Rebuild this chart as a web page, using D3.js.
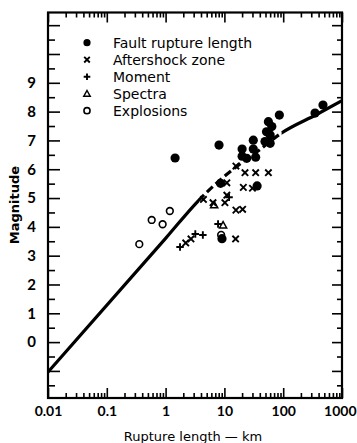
<!DOCTYPE html>
<html><head><meta charset="utf-8">
<script src="https://cdn.jsdelivr.net/npm/d3@7"></script>
<style>body{margin:0;background:#fff}svg{display:block}</style>
</head><body><svg id="c" width="357" height="443"></svg>
<script>
// ---- data (rupture length km, magnitude) ----
const faultL = [1.45, 8.1, 8.6, 20, 20, 24, 31, 31, 34, 49, 52, 56, 64, 60, 60, 86, 348, 475, 36, 9.1];
const faultM = [6.39, 6.84, 5.51, 6.70, 6.45, 6.38, 7.01, 6.70, 6.42, 6.96, 7.30, 7.65, 7.48, 7.19, 6.90, 7.88, 7.95, 8.23, 5.42, 3.59];
const afterL = [15.7, 22.4, 34, 56, 11, 21, 30, 4.4, 6.4, 10.2, 11, 15.7, 20.4, 15.5, 2.2, 2.7];
const afterM = [6.11, 5.88, 5.88, 5.88, 5.53, 5.37, 5.34, 4.95, 4.84, 4.84, 5.10, 4.58, 4.61, 3.58, 3.44, 3.58];
const momentL = [1.76, 3.2, 4.3, 7.8, 12];
const momentM = [3.30, 3.75, 3.72, 4.10, 5.03];
const spectraL = [9.5, 6.7];
const spectraM = [4.06, 4.76];
const explL = [0.357, 0.58, 0.89, 1.18, 8.8];
const explM = [3.40, 4.24, 4.09, 4.55, 3.72];
const curveL = [0.01, 1, 3.7, 8.4, 16, 35, 94, 370, 1000];
const curveM = [-1.04, 3.6, 4.93, 5.62, 6.09, 6.59, 7.26, 7.90, 8.38];
const dashFrom = 3.7, dashTo = 94;
const xTicks = [0.01, 0.1, 1, 10, 100, 1000];
const xTickLabels = ["0.01", "0.1", "1", "10", "100", "1000"];
const yTicks = [0, 1, 2, 3, 4, 5, 6, 7, 8, 9];
const legendLabels = ["Fault rupture length", "Aftershock zone", "Moment", "Spectra", "Explosions"];
const xTitle = "Rupture length — km";
const yTitle = "Magnitude";

// ---- drawing ----
const svg = d3.select('#c');
const x = d3.scaleLog().domain([0.01, 1000]).range([48, 342]);
const y = d3.scaleLinear().domain([-1.94, 11.44]).range([398, 12.5]);
const FONT = "Lato, 'DejaVu Sans', sans-serif";
const FONT2 = "'DejaVu Sans', sans-serif";

const minorX = [];
for (let e = -2; e < 3; e++) for (let k = 2; k <= 9; k++) minorX.push(k * Math.pow(10, e));
const majorY = d3.range(-1, 12);
const minorY = d3.range(-1.5, 11.5, 1);

function styleAxis(g) {
  g.select('.domain').remove();
  g.selectAll('line').attr('stroke', '#000').attr('stroke-width', 1.6);
}
// bottom
svg.append('g').attr('transform', `translate(0,${y.range()[0]})`)
  .call(d3.axisBottom(x).tickValues(minorX).tickSize(-5).tickFormat(''))
  .call(styleAxis);
svg.append('g').attr('transform', `translate(0,${y.range()[0]})`)
  .call(d3.axisBottom(x).tickValues(xTicks).tickSize(-10).tickPadding(8)
    .tickFormat((d, i) => xTickLabels[i]))
  .call(styleAxis)
  .call(g => g.selectAll('text').attr('font-family', FONT).attr('font-size', 14)
    .attr('font-weight', 'bold').attr('fill', '#000')
    .filter(d => d === 1000).attr('text-anchor', 'end').attr('dx', 14));
// top
svg.append('g').attr('transform', `translate(0,${y.range()[1]})`)
  .call(d3.axisTop(x).tickValues(minorX).tickSize(-5).tickFormat('')).call(styleAxis);
svg.append('g').attr('transform', `translate(0,${y.range()[1]})`)
  .call(d3.axisTop(x).tickValues(xTicks).tickSize(-10).tickFormat('')).call(styleAxis);
// left
svg.append('g').attr('transform', `translate(${x.range()[0]},0)`)
  .call(d3.axisLeft(y).tickValues(minorY).tickSize(-7).tickFormat('')).call(styleAxis);
svg.append('g').attr('transform', `translate(${x.range()[0]},0)`)
  .call(d3.axisLeft(y).tickValues(majorY).tickSize(-12).tickPadding(12)
    .tickFormat(d => yTicks.includes(d) ? String(d) : ''))
  .call(styleAxis)
  .call(g => g.selectAll('text').attr('font-family', FONT).attr('font-size', 15)
    .attr('font-weight', 'bold').attr('fill', '#000'));
// right
svg.append('g').attr('transform', `translate(${x.range()[1]},0)`)
  .call(d3.axisRight(y).tickValues(minorY).tickSize(-5).tickFormat('')).call(styleAxis);
svg.append('g').attr('transform', `translate(${x.range()[1]},0)`)
  .call(d3.axisRight(y).tickValues(majorY).tickSize(-10).tickFormat('')).call(styleAxis);

// frame
svg.append('rect').attr('x', x.range()[0]).attr('y', y.range()[1])
  .attr('width', x.range()[1] - x.range()[0]).attr('height', y.range()[0] - y.range()[1])
  .attr('fill', 'none').attr('stroke', '#000').attr('stroke-width', 2.2);

// curve
const defs = svg.append('defs');
const clips = [[x.range()[0] - 5, x(dashFrom)], [x(dashFrom), x(dashTo)], [x(dashTo), x.range()[1] + 5]];
clips.forEach((c, i) => defs.append('clipPath').attr('id', 'cp' + i).append('rect')
  .attr('x', c[0]).attr('y', 0).attr('width', c[1] - c[0]).attr('height', 443));
const curvePts = curveL.map((d, i) => [d, curveM[i]]);
const line = d3.line().x(d => x(d[0])).y(d => y(d[1])).curve(d3.curveMonotoneX);
clips.forEach((c, i) => svg.append('path').datum(curvePts).attr('d', line)
  .attr('clip-path', `url(#cp${i})`).attr('fill', 'none').attr('stroke', '#000')
  .attr('stroke-width', 3.2).attr('stroke-dasharray', i === 1 ? '8,4' : null));

// marker helpers
function mark(g, type, cx, cy, s) {
  if (type === 'fault') g.append('circle').attr('cx', cx).attr('cy', cy).attr('r', s).attr('fill', '#000');
  else if (type === 'expl') g.append('circle').attr('cx', cx).attr('cy', cy).attr('r', s * 0.8)
    .attr('fill', 'none').attr('stroke', '#000').attr('stroke-width', 1.6);
  else if (type === 'after') g.append('path')
    .attr('d', `M${cx - s},${cy - s}L${cx + s},${cy + s}M${cx - s},${cy + s}L${cx + s},${cy - s}`)
    .attr('stroke', '#000').attr('stroke-width', 1.9);
  else if (type === 'moment') g.append('path')
    .attr('d', `M${cx - s * 1.1},${cy}L${cx + s * 1.1},${cy}M${cx},${cy - s * 1.1}L${cx},${cy + s * 1.1}`)
    .attr('stroke', '#000').attr('stroke-width', 1.9);
  else if (type === 'spectra') g.append('path')
    .attr('d', `M${cx},${cy - s}L${cx + s},${cy + s * 0.8}L${cx - s},${cy + s * 0.8}Z`)
    .attr('fill', 'none').attr('stroke', '#000').attr('stroke-width', 1.5);
}
const gm = svg.append('g');
const sets = [
  ['expl', explL, explM, 4.2],
  ['spectra', spectraL, spectraM, 3.6],
  ['moment', momentL, momentM, 3.4],
  ['after', afterL, afterM, 3.2],
  ['fault', faultL, faultM, 4.6]
];
sets.forEach(([t, L, M, s]) => L.forEach((d, i) => mark(gm, t, x(d), y(M[i]), s)));

// legend
const lg = svg.append('g');
const legTypes = ['fault', 'after', 'moment', 'spectra', 'expl'];
const legSize = [3.6, 2.8, 3.0, 3.2, 3.8];
legendLabels.forEach((t, i) => {
  const cy = 42.7 + i * 17;
  mark(lg, legTypes[i], 87, cy, legSize[i]);
  lg.append('text').attr('x', 113).attr('y', cy + 5).text(t)
    .attr('font-family', FONT2).attr('font-size', 14).attr('fill', '#000');
});

// titles
svg.append('text').attr('x', 193).attr('y', 441).attr('text-anchor', 'middle').text(xTitle)
  .attr('font-family', FONT2).attr('font-size', 13).attr('fill', '#000');
svg.append('text').attr('transform', 'translate(19,205) rotate(-90)').attr('text-anchor', 'middle')
  .text(yTitle).attr('font-family', FONT2).attr('font-size', 13).attr('font-weight', 'bold');
</script></body></html>
